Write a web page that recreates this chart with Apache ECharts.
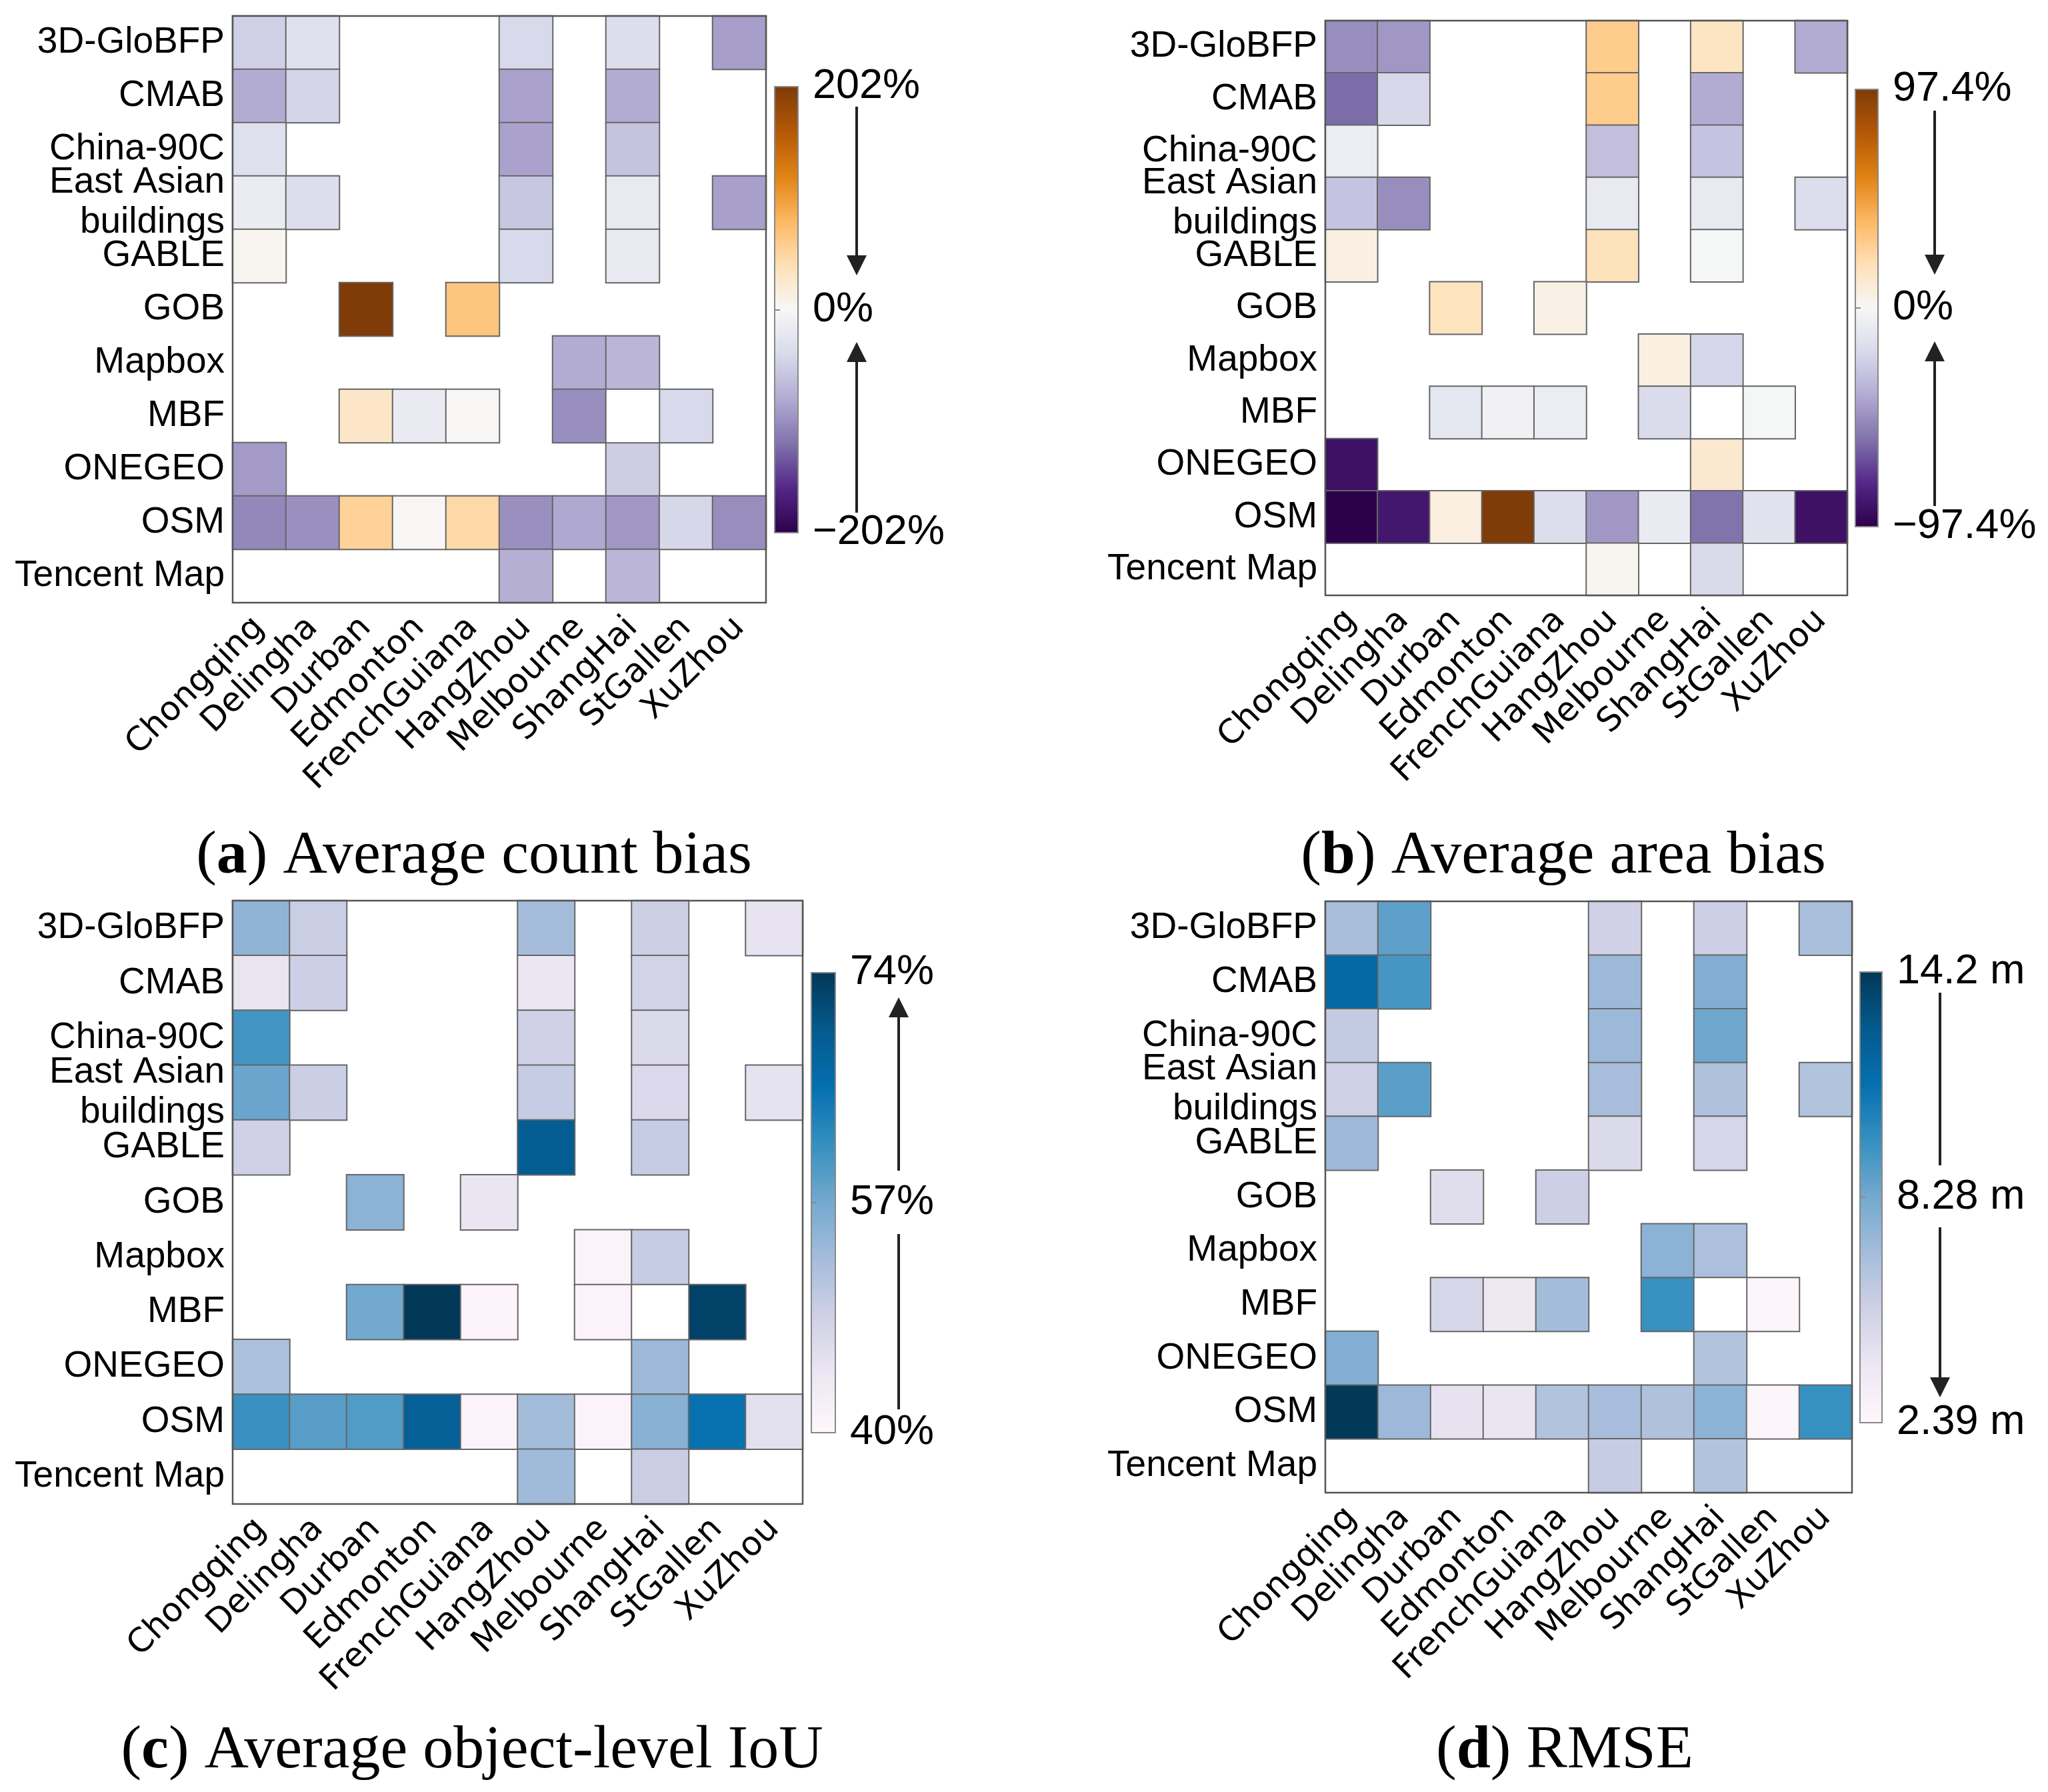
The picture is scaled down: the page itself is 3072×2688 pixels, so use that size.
<!DOCTYPE html>
<html>
<head>
<meta charset="utf-8">
<script src="https://cdn.jsdelivr.net/npm/echarts@6/dist/echarts.min.js"></script>
<style>
html, body { margin: 0; padding: 0; background: #fff; }
#main { width: 3072px; height: 2688px; }
</style>
</head>
<body>
<div id="main"></div>
<script>
// categories
var cities = ['Chongqing', 'Delingha', 'Durban', 'Edmonton', 'FrenchGuiana',
  'HangZhou', 'Melbourne', 'ShangHai', 'StGallen', 'XuZhou'];
var products = ['3D-GloBFP', 'CMAB', 'China-90C', 'East Asian\nbuildings', 'GABLE',
  'GOB', 'Mapbox', 'MBF', 'ONEGEO', 'OSM', 'Tencent Map'];

// one row per product, one column per city; null = no data, '-' = empty framed cell
var countBias = [
  [-50, -30, null, null, null, -40, null, -35, null, -90],
  [-80, -45, null, null, null, -87, null, -80, null, null],
  [-32, null, null, null, null, -87, null, -60, null, null],
  [-16, -35, null, null, null, -57, null, -20, null, -89],
  [5, null, null, null, null, -40, null, -20, null, null],
  [null, null, 202, null, 67, null, null, null, null, null],
  [null, null, null, null, null, null, -81, -71, null, null],
  [null, null, 30, -18, 2, null, -101, '-', -40, null],
  [-93, null, null, null, null, null, null, -52, null, null],
  [-106, -100, 55, 1, 47, -100, -83, -95, -43, -102],
  [null, null, null, null, null, -77, null, -71, null, null]
];
var areaBias = [
  [-49, -46, null, null, null, 29, null, 16, null, -39],
  [-60, -20, null, null, null, 29, null, -39, null, null],
  [-7, null, null, null, null, -31, null, -29, null, null],
  [-29, -49, null, null, null, -9, null, -9, null, -17],
  [6, null, null, null, null, 18, null, -1, null, null],
  [null, null, 17, null, 5, null, null, null, null, null],
  [null, null, null, null, null, null, 7, -21, null, null],
  [null, null, -11, -4, -7, null, -18, '-', -1, null],
  [-89, null, null, null, null, null, null, 12, null, null],
  [-97.4, -86, 7, 97.4, -17, -46, -8, -58, -14, -89],
  [null, null, null, null, null, 2, null, -19, null, null]
];
var iou = [
  [54.6, 49.2, null, null, null, 52.8, null, 48.8, null, 45],
  [44.8, 48.9, null, null, null, 44.4, null, 48.2, null, null],
  [60.4, null, null, null, null, 48.5, null, 46.8, null, null],
  [57.7, 49, null, null, null, 49.5, null, 46.9, null, 45.1],
  [48.5, null, null, null, null, 69.2, null, 49.6, null, null],
  [null, null, 55, null, 44.7, null, null, null, null, null],
  [null, null, null, null, null, null, 41, 49.6, null, null],
  [null, null, 57, 74, 40.7, null, 41, '-', 72.7, null],
  [52.2, null, null, null, null, null, null, 53.6, null, null],
  [61, 59, 59.4, 68.6, 41, 53, 41, 55.3, 65.2, 45.4],
  [null, null, null, null, null, 53.3, null, 49.2, null, null]
];
var rmse = [
  [6.76, 8.8, null, null, null, 5.34, null, 5.5, null, 6.7],
  [11.7, 9.4, null, null, null, 7.1, null, 7.9, null, null],
  [5.8, null, null, null, null, 7.1, null, 8.4, null, null],
  [5.4, 8.9, null, null, null, 6.8, null, 6.5, null, 6.4],
  [7.1, null, null, null, null, 4.75, null, 5.0, null, null],
  [null, null, 4.5, null, 5.5, null, null, null, null, null],
  [null, null, null, null, null, null, 7.6, 6.6, null, null],
  [null, null, 5.0, 3.8, 6.9, null, 9.7, '-', 2.6, null],
  [7.9, null, null, null, null, null, null, 6.4, null, null],
  [14.2, 7.1, 4.2, 4.0, 6.4, 6.8, 6.5, 7.6, 2.6, 9.77],
  [null, null, null, null, null, 5.7, null, 6.4, null, null]
];

// colour bar tick labels, bottom to top
var countTicks = ['\u2212202%', '0%', '202%'];
var areaTicks = ['\u221297.4%', '0%', '97.4%'];
var iouTicks = ['40%', '57%', '74%'];
var rmseTicks = ['2.39 m', '8.28 m', '14.2 m'];

var captions = ['Average count bias', 'Average area bias', 'Average object-level IoU', 'RMSE'];
var letters = ['a', 'b', 'c', 'd'];

var PuOr = ['#2d004b', '#542788', '#8073ac', '#b2abd2', '#d8daeb', '#f7f7f7',
  '#fee0b6', '#fdb863', '#e08214', '#b35806', '#7f3b08'];
var PuBu = ['#fff7fb', '#ece7f2', '#d0d1e6', '#a6bddb', '#74a9cf', '#3690c0',
  '#0570b0', '#045a8d', '#023858'];

var panels = [
  { values: countBias, ticks: countTicks, min: -202, max: 202, colors: PuOr,
    grid: { left: 349, top: 24, width: 800, height: 880 },
    bar: { left: 1162, top: 130, width: 35, height: 669 },
    arrowX: 1285, arrows: [[160, 413, true], [769, 513, true]],
    cap: [711, 1285] },
  { values: areaBias, ticks: areaTicks, min: -97.4, max: 97.4, colors: PuOr,
    grid: { left: 1988, top: 31, width: 783, height: 862 },
    bar: { left: 2783, top: 134, width: 34, height: 656 },
    arrowX: 2902, arrows: [[166, 412, true], [759, 512, true]],
    cap: [2345, 1285] },
  { values: iou, ticks: iouTicks, min: 40, max: 74, colors: PuBu,
    grid: { left: 349, top: 1351, width: 855, height: 905 },
    bar: { left: 1217, top: 1459, width: 36, height: 690 },
    arrowX: 1348, arrows: [[2114, 1851, false], [1756, 1496, true]],
    cap: [708, 2627] },
  { values: rmse, ticks: rmseTicks, min: 2.39, max: 14.2, colors: PuBu,
    grid: { left: 1988, top: 1352, width: 790, height: 887 },
    bar: { left: 2790, top: 1458, width: 33, height: 676 },
    arrowX: 2910, arrows: [[1489, 1748, false], [1841, 2096, true]],
    cap: [2347, 2627] }
];

function cells(m, blank) {
  var out = [];
  m.forEach(function (row, r) {
    row.forEach(function (v, c) {
      if (blank ? v === '-' : typeof v === 'number') out.push([c, r, blank ? 0 : v]);
    });
  });
  return out;
}

var grids = [], xAxes = [], yAxes = [], series = [], visualMaps = [], graphics = [];

panels.forEach(function (p, i) {
  grids.push({ left: p.grid.left, top: p.grid.top, width: p.grid.width, height: p.grid.height,
    show: true, borderColor: '#555', borderWidth: 2.5, backgroundColor: 'transparent', z: 5 });
  xAxes.push({ type: 'category', gridIndex: i, data: cities, position: 'bottom',
    axisLine: { show: false }, axisTick: { show: false }, splitArea: { show: false },
    axisLabel: { interval: 0, rotate: 45, margin: 30, color: '#000',
      fontFamily: 'DejaVu Sans', fontSize: 50, padding: [80, 0, 0, 0] } });
  yAxes.push({ type: 'category', gridIndex: i, data: products, inverse: true,
    axisLine: { show: false }, axisTick: { show: false }, splitArea: { show: false },
    axisLabel: { interval: 0, margin: 12, color: '#000', fontFamily: 'Liberation Sans',
      fontSize: 55, lineHeight: 60 } });
  series.push({ type: 'heatmap', name: captions[i], xAxisIndex: i, yAxisIndex: i,
    data: cells(p.values, false),
    itemStyle: { borderColor: '#666', borderWidth: 2 }, emphasis: { disabled: true } });
  series.push({ type: 'heatmap', name: captions[i] + ' empty', xAxisIndex: i, yAxisIndex: i,
    data: cells(p.values, true),
    itemStyle: { color: '#ffffff', borderColor: '#666', borderWidth: 2 }, emphasis: { disabled: true } });
  visualMaps.push({ type: 'continuous', seriesIndex: 2 * i, min: p.min, max: p.max,
    left: p.bar.left, top: p.bar.top, itemWidth: p.bar.width, itemHeight: p.bar.height,
    padding: 0, calculable: false, hoverLink: false, inRange: { color: p.colors } });

  // arrows next to the colour bar
  p.arrows.forEach(function (a) {
    var y1 = a[0], y2 = a[1], dir = y2 > y1 ? 1 : -1, headLen = 30, half = 15;
    var lineEnd = a[2] ? y2 - dir * headLen : y2;
    graphics.push({ type: 'line', z: 20,
      shape: { x1: p.arrowX, y1: y1, x2: p.arrowX, y2: lineEnd },
      style: { stroke: '#222', lineWidth: 4 } });
    if (a[2]) {
      graphics.push({ type: 'polygon', z: 20,
        shape: { points: [[p.arrowX, y2], [p.arrowX - half, y2 - dir * headLen], [p.arrowX + half, y2 - dir * headLen]] },
        style: { fill: '#222' } });
    }
  });

  graphics.push({ type: 'text', x: p.cap[0], y: p.cap[1], z: 20,
    style: { text: '({b|' + letters[i] + '}) ' + captions[i], fill: '#000',
      font: '92px "Liberation Serif"', textAlign: 'center', textVerticalAlign: 'middle',
      rich: { b: { fontWeight: 'bold', fontSize: 92, fontFamily: 'Liberation Serif' } } } });
});

// colour bar frames and tick labels
panels.forEach(function (p, i) {
  var gi = 4 + i;
  grids.push({ left: p.bar.left, top: p.bar.top, width: p.bar.width, height: p.bar.height,
    show: true, borderColor: '#888', borderWidth: 2, backgroundColor: 'transparent', z: 10 });
  xAxes.push({ type: 'value', gridIndex: gi, show: false });
  yAxes.push({ type: 'category', gridIndex: gi, data: p.ticks, boundaryGap: false,
    position: 'right', z: 10,
    axisLine: { show: true, lineStyle: { color: '#888', width: 2 } },
    axisTick: { show: true, length: 8, lineStyle: { color: '#888', width: 2 } },
    splitLine: { show: false },
    axisLabel: { margin: 22, color: '#000', fontFamily: 'Liberation Sans', fontSize: 63 } });
});

var chart = echarts.init(document.getElementById('main'));
chart.setOption({
  backgroundColor: '#fff',
  animation: false,
  grid: grids,
  xAxis: xAxes,
  yAxis: yAxes,
  visualMap: visualMaps,
  series: series,
  graphic: graphics
});
</script>
</body>
</html>
